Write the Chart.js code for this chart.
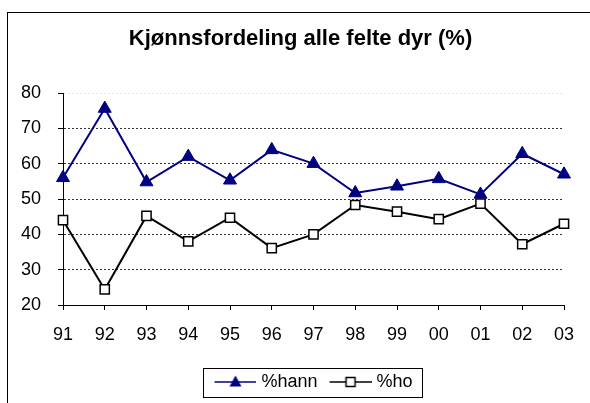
<!DOCTYPE html>
<html lang="no">
<head>
  <meta charset="UTF-8">
  <title>Kjønnsfordeling alle felte dyr (%)</title>
  <script src="https://cdn.jsdelivr.net/npm/chart.js"></script>
  <style>
    body { margin: 0; background: #fff; }
    #frame {
      position: absolute; left: 7px; top: 12px;
      width: 620px; height: 420px;
      border: 1px solid #000;
    }
    #wrap { position: absolute; left: 0; top: 0; width: 590px; height: 403px; }
  </style>
</head>
<body>
  <div id="frame"></div>
  <div id="wrap"><canvas id="sexChart" width="590" height="403"></canvas></div>

  <script>
    const years = ['91', '92', '93', '94', '95', '96', '97', '98', '99', '00', '01', '02', '03'];
    const hann = [56, 75.6, 54.8, 62, 55.3, 63.9, 60, 51.7, 53.6, 55.7, 51.3, 62.8, 57];
    const ho = [44, 24.4, 45.2, 38, 44.7, 36.1, 40, 48.3, 46.4, 44.3, 48.7, 37.2, 43];
    const yMin = 20, yMax = 80, yStep = 10;

    const NAVY = '#000080';
    const FONT = "'Liberation Sans', Arial, sans-serif";

    // legend sample: line with the marker in the middle
    function legendIcon(kind) {
      const c = document.createElement('canvas');
      c.width = 46; c.height = 16;
      const g = c.getContext('2d');
      g.lineWidth = 1.5;
      g.strokeStyle = kind === 'tri' ? NAVY : '#000';
      g.beginPath(); g.moveTo(4, 8); g.lineTo(46, 8); g.stroke();
      if (kind === 'tri') {
        g.fillStyle = NAVY;
        g.beginPath();
        g.moveTo(25, 1.5); g.lineTo(31, 12.5); g.lineTo(19, 12.5);
        g.closePath(); g.fill();
      } else {
        g.fillStyle = '#fff';
        g.fillRect(20.5, 3.5, 9, 9);
        g.strokeRect(20.5, 3.5, 9, 9);
      }
      return c;
    }

    // shift the title a bit to the right, like the original
    const titleShift = {
      id: 'titleShift',
      afterLayout(chart) { chart.titleBlock.left += 29; }
    };

    const legendFrame = {
      id: 'legendFrame',
      afterDraw(chart) {
        const hb = chart.legend.legendHitBoxes;
        if (!hb || !hb.length) return;
        const last = hb[hb.length - 1];
        const x1 = hb[0].left - 11, x2 = last.left + last.width + 10;
        const yc = hb[0].top + hb[0].height / 2;
        const ctx = chart.ctx;
        ctx.save();
        ctx.strokeStyle = '#000';
        ctx.lineWidth = 1;
        ctx.strokeRect(Math.round(x1) + 0.5, Math.round(yc - 14.5) + 0.5, Math.round(x2 - x1), 29);
        ctx.restore();
      }
    };

    const ctx = document.getElementById('sexChart').getContext('2d');
    new Chart(ctx, {
      type: 'line',
      data: {
        labels: years,
        datasets: [
          {
            label: '%hann',
            data: hann,
            borderColor: NAVY,
            borderWidth: 2,
            pointStyle: 'triangle',
            pointRadius: 7.5,
            pointBackgroundColor: NAVY,
            pointBorderColor: NAVY,
            pointBorderWidth: 1,
            tension: 0
          },
          {
            label: '%ho',
            data: ho,
            borderColor: '#000',
            borderWidth: 2,
            pointStyle: 'rect',
            pointRadius: 6.5,
            pointBackgroundColor: '#fff',
            pointBorderColor: '#000',
            pointBorderWidth: 1.5,
            tension: 0
          }
        ]
      },
      options: {
        responsive: false,
        animation: false,
        layout: { padding: { left: 8, right: 26, top: 0, bottom: 2 } },
        scales: {
          x: {
            offset: false,
            grid: { drawOnChartArea: false, drawTicks: true, tickLength: 5, tickColor: '#000' },
            border: { color: '#000', width: 1 },
            ticks: { color: '#000', padding: 14, maxRotation: 0, font: { family: FONT, size: 18 } },
            afterFit(scale) { scale.height = 56; }
          },
          y: {
            min: yMin,
            max: yMax,
            grid: {
              color: c => (c.tick && c.tick.value === yMax) ? '#e8e8e8' : '#333',
              lineWidth: 1,
              tickLength: 5,
              tickColor: '#000',
              tickBorderDash: []
            },
            border: { color: '#000', width: 1, dash: [2, 2] },
            ticks: { stepSize: yStep, color: '#000', padding: 17, font: { family: FONT, size: 18 } },
            afterFit(scale) { scale.width = 55; }
          }
        },
        plugins: {
          title: {
            display: true,
            text: 'Kjønnsfordeling alle felte dyr (%)',
            color: '#000',
            font: { family: FONT, size: 22, weight: 'bold' },
            padding: { top: 25.8, bottom: 40.8 }
          },
          legend: {
            position: 'bottom',
            fullSize: false,
            labels: {
              usePointStyle: true,
              pointStyleWidth: 38,
              padding: 12,
              color: '#000',
              font: { family: FONT, size: 18 },
              generateLabels: chart => chart.data.datasets.map((ds, i) => ({
                text: ds.label,
                pointStyle: legendIcon(i === 0 ? 'tri' : 'sq'),
                fillStyle: 'transparent',
                strokeStyle: 'transparent',
                lineWidth: 0,
                fontColor: '#000',
                datasetIndex: i
              }))
            }
          },
          tooltip: { enabled: false }
        }
      },
      plugins: [titleShift, legendFrame]
    });
  </script>
</body>
</html>
